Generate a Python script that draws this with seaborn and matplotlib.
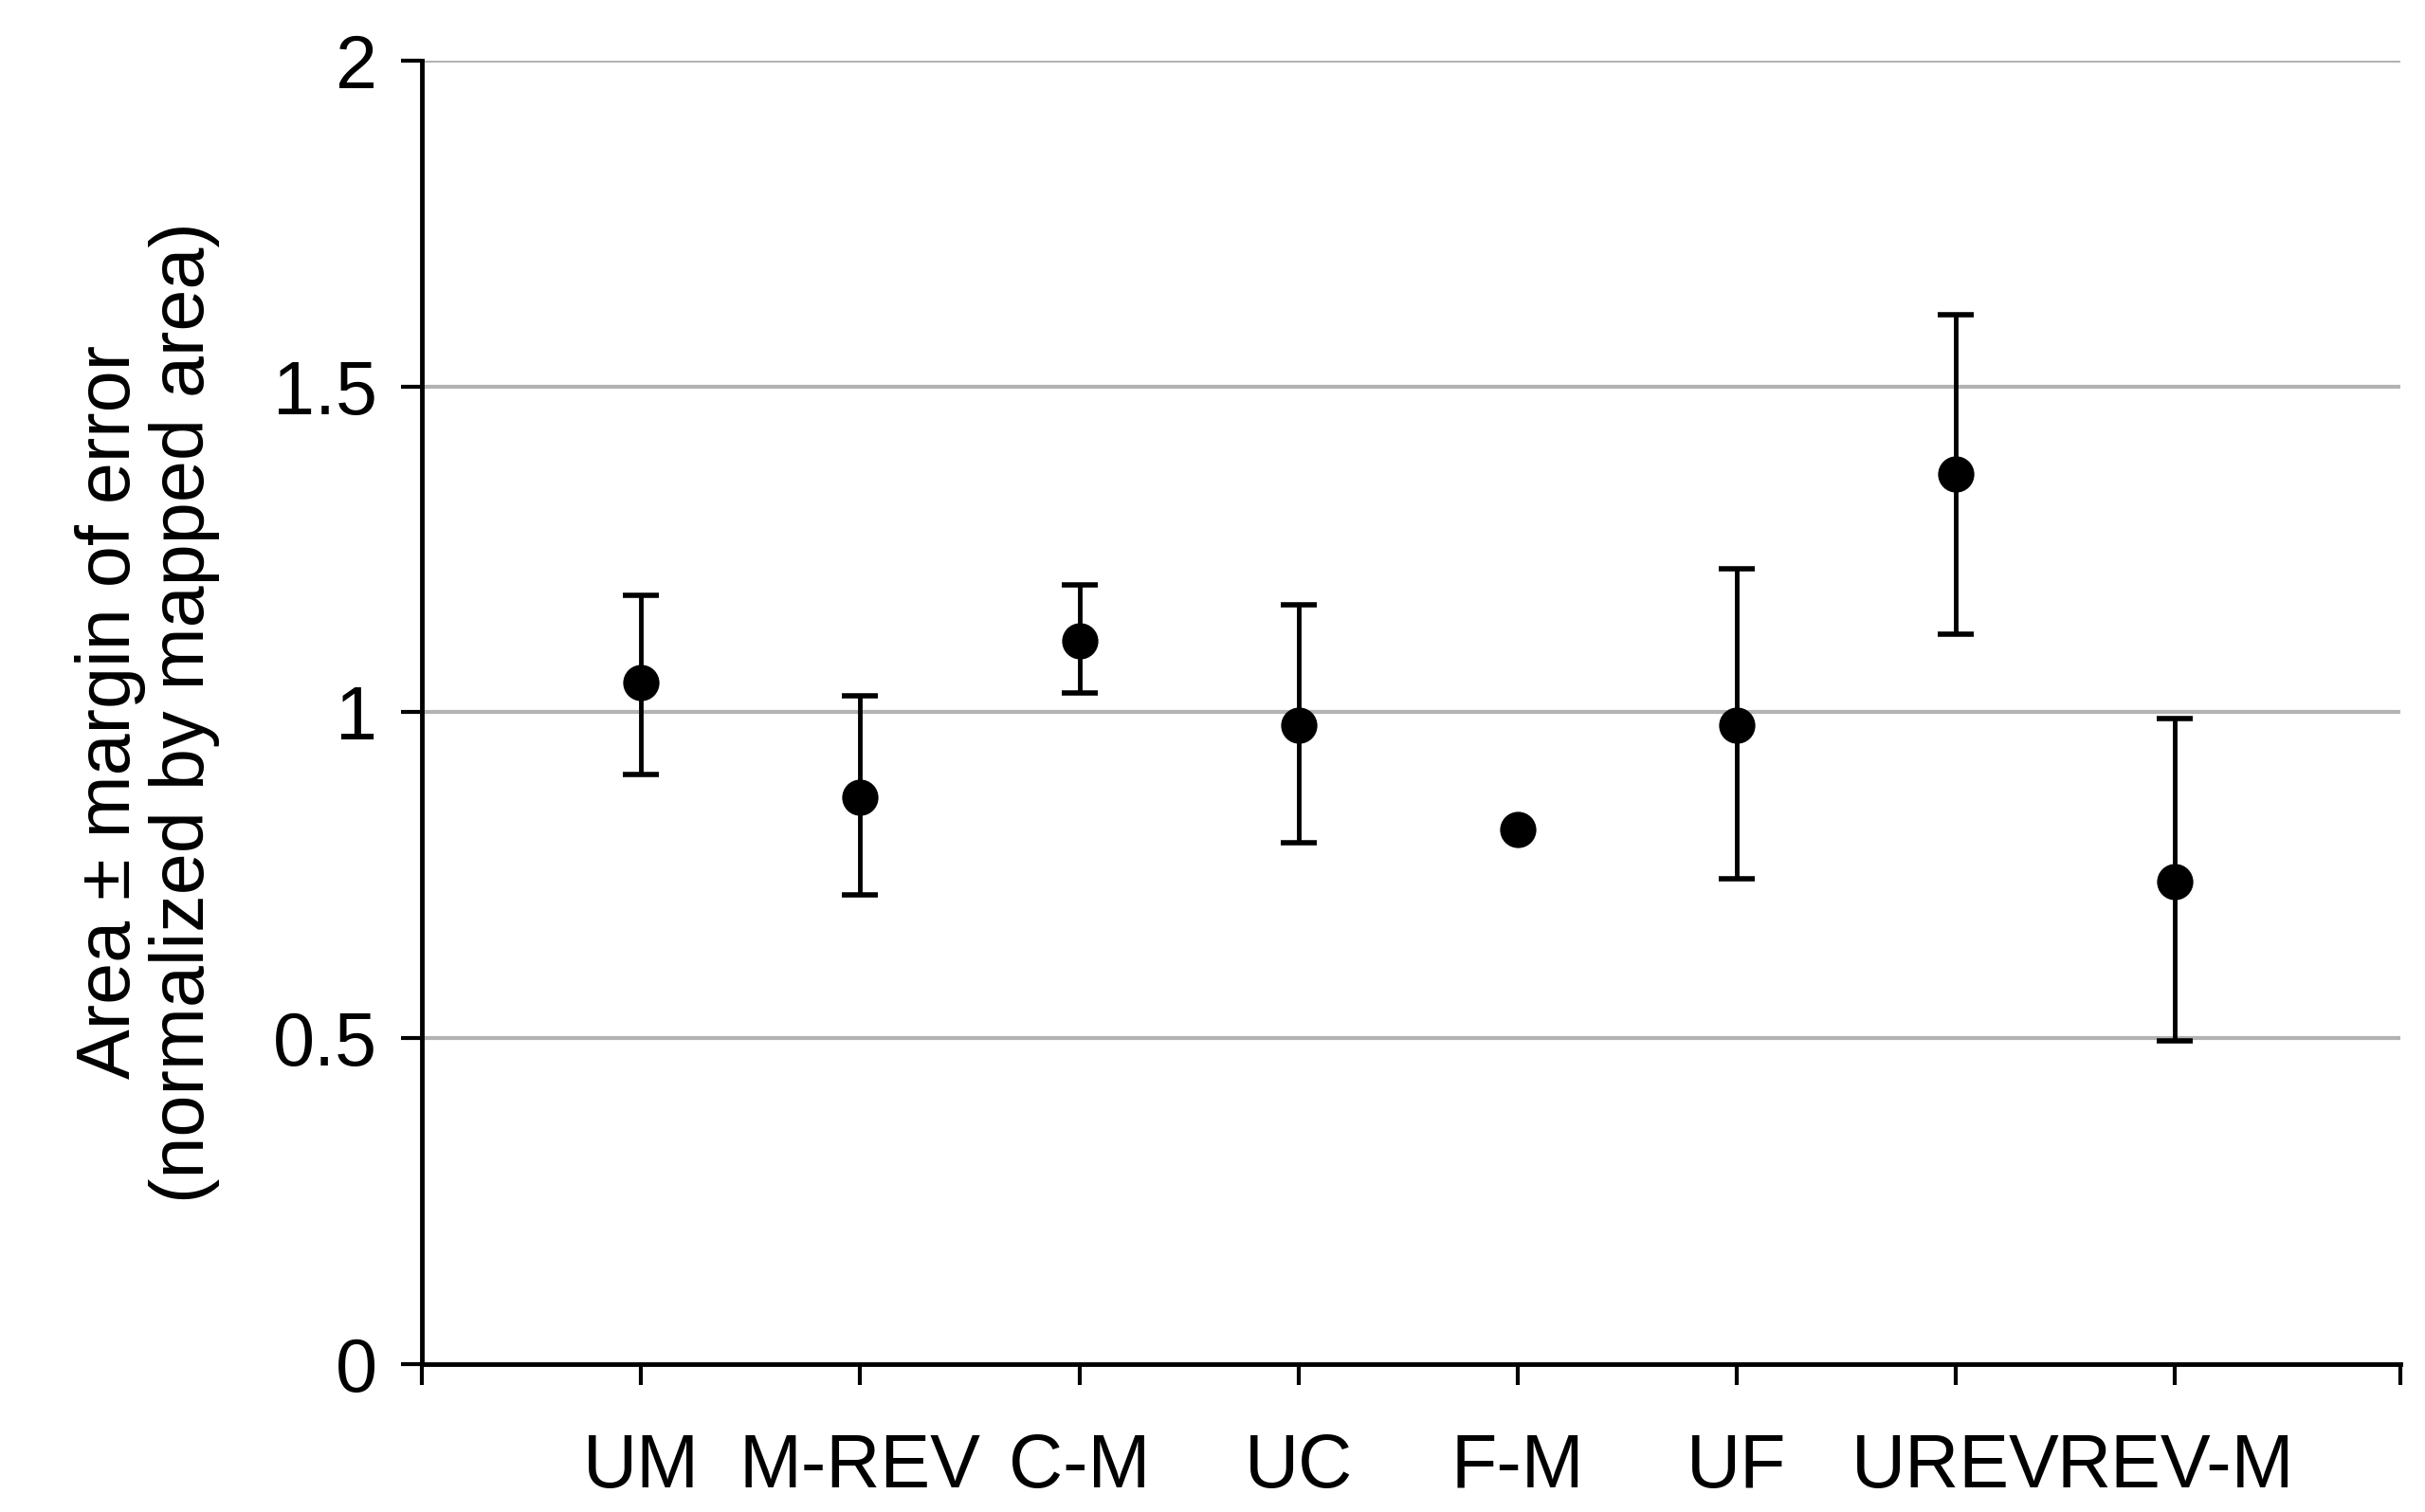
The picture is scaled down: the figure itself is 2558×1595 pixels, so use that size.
import numpy as np
import pandas as pd
import matplotlib
matplotlib.use("Agg")
import matplotlib.pyplot as plt
import seaborn as sns

# values
categories = ["UM", "M-REV", "C-M", "UC", "F-M", "UF", "UREV", "REV-M"]
area = [1.045, 0.87, 1.11, 0.98, 0.82, 0.98, 1.365, 0.74]
lower = [0.905, 0.72, 1.03, 0.80, 0.82, 0.745, 1.12, 0.495]
upper = [1.18, 1.025, 1.195, 1.165, 0.82, 1.22, 1.61, 0.99]

df = pd.DataFrame({"cat": categories, "area": area, "lo": lower, "hi": upper})
df["pos"] = np.arange(len(df))

sns.set_theme(style="white")
plt.rcParams["font.family"] = ["Liberation Sans", "DejaVu Sans"]
plt.rcParams["text.color"] = "black"
plt.rcParams["axes.labelcolor"] = "black"
plt.rcParams["xtick.color"] = "black"
plt.rcParams["ytick.color"] = "black"

fig, ax = plt.subplots(figsize=(25.58, 15.95), dpi=100)
fig.subplots_adjust(left=0.174, right=0.99, top=0.96, bottom=0.098)

for y in [0.5, 1.0, 1.5, 2.0]:
    ax.axhline(y, color="#b3b3b3", lw=3, zorder=0)

has_err = df["hi"] > df["lo"]
ax.errorbar(df.loc[has_err, "pos"], df.loc[has_err, "area"],
            yerr=[df.loc[has_err, "area"] - df.loc[has_err, "lo"],
                  df.loc[has_err, "hi"] - df.loc[has_err, "area"]],
            fmt="none", ecolor="black", elinewidth=3.5, capsize=14, capthick=4, zorder=2)
sns.scatterplot(data=df, x="pos", y="area", color="black", s=650, edgecolor="black",
                ax=ax, zorder=3, legend=False)

ax.set_xlim(-1, 8.03)
ax.set_ylim(0, 2)
ax.set_yticks([0, 0.5, 1, 1.5, 2])
ax.set_yticklabels(["0", "0.5", "1", "1.5", "2"])
ax.set_xticks(df["pos"])
ax.set_xticklabels(categories)
ax.tick_params(axis="x", length=16, width=3, pad=36, labelsize=57, direction="out", bottom=True)
ax.tick_params(axis="y", length=16, width=3, pad=18, labelsize=57, direction="out", left=True)
# end ticks on x axis
ax.set_xticks([-1, 8.03], minor=True)
ax.tick_params(axis="x", which="minor", length=16, width=3, bottom=True)

for s in ["top", "right"]:
    ax.spines[s].set_visible(False)
for s in ["left", "bottom"]:
    ax.spines[s].set_color("black")
    ax.spines[s].set_linewidth(3.5)

ax.set_xlabel("")
ax.set_ylabel("Area \u00b1 margin of error\n(normalized by mapped area)", fontsize=57,
              linespacing=1.05, labelpad=40)

fig.savefig("out.png", dpi=100)
